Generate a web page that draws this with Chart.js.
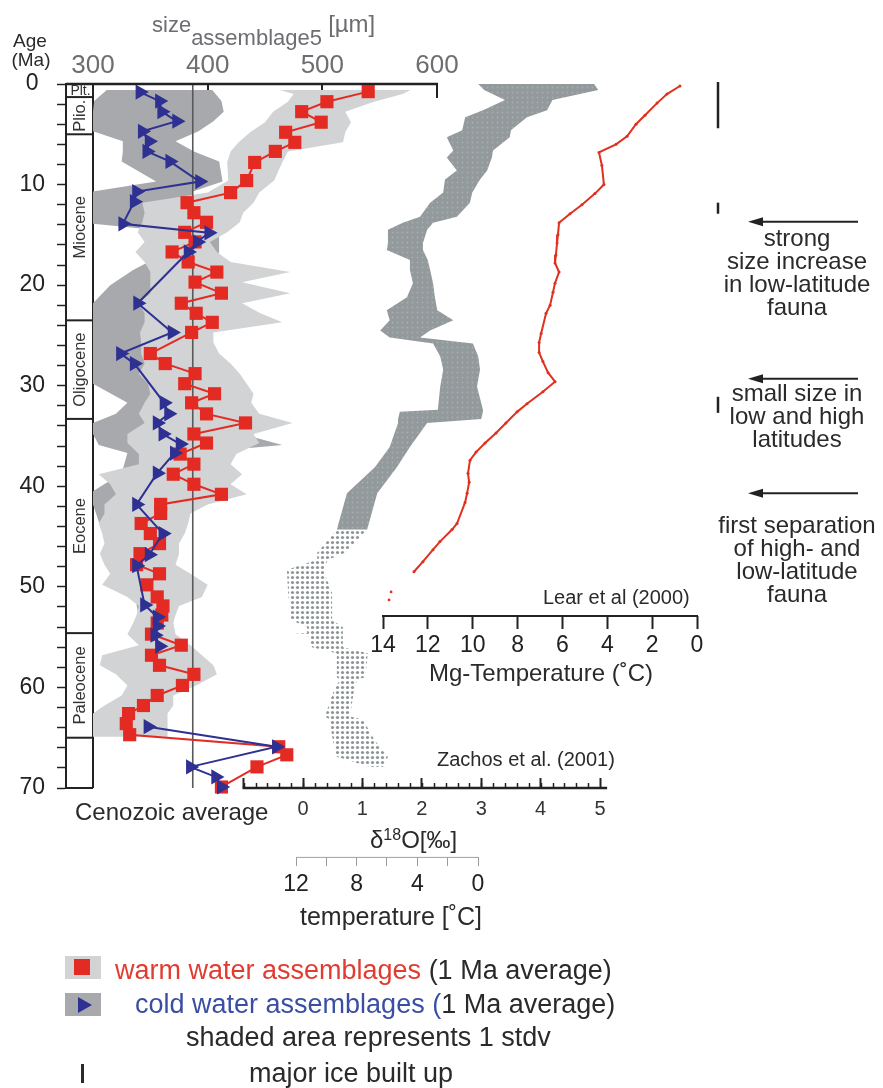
<!DOCTYPE html>
<html>
<head>
<meta charset="utf-8">
<script src="https://cdn.jsdelivr.net/npm/chart.js@4/dist/chart.umd.min.js"></script>
<style>
html,body{margin:0;padding:0;background:#fff;}
#wrap{position:relative;width:883px;height:1088px;overflow:hidden;font-family:"Liberation Sans",Arial,sans-serif;color:#2a2a2a;}
#c{position:absolute;left:0;top:0;}
.t{position:absolute;white-space:nowrap;line-height:1;}
.ctr{transform:translateX(-50%);text-align:center;}
.ann{position:absolute;left:797px;transform:translateX(-50%);text-align:center;white-space:nowrap;font-size:24px;line-height:23px;}
.sw{position:absolute;}
</style>
</head>
<body>
<div id="wrap">
<canvas id="c" width="883" height="1088"></canvas>

<div class="t ctr" style="left:30px;top:31px;font-size:19px;">Age</div>
<div class="t ctr" style="left:31px;top:50px;font-size:19px;">(Ma)</div>
<div class="t" style="left:152px;top:12.4px;font-size:22px;color:#6d6e71;">size<span style="position:relative;top:13px;">assemblage5</span> <span style="font-size:24px;">[µm]</span></div>

<div class="t" style="left:75px;top:800px;font-size:24px;">Cenozoic average</div>
<div class="t" style="left:437px;top:749px;font-size:20px;">Zachos et al. (2001)</div>
<div class="t" style="left:370px;top:827.5px;font-size:24px;">δ<span style="font-size:16px;position:relative;top:-7.6px;">18</span>O[‰]</div>
<div class="t ctr" style="left:391px;top:903.8px;font-size:25px;">temperature [˚C]</div>
<div class="t ctr" style="left:541px;top:661.4px;font-size:24px;">Mg-Temperature (˚C)</div>
<div class="t" style="left:543px;top:587px;font-size:20px;">Lear et al (2000)</div>

<div class="ann" style="top:226.4px;">strong<br>size increase<br>in low-latitude<br>fauna</div>
<div class="ann" style="top:381.4px;">small size in<br>low and high<br>latitudes</div>
<div class="ann" style="top:513.4px;">first separation<br>of high- and<br>low-latitude<br>fauna</div>

<div class="sw" style="left:65px;top:956px;width:36px;height:23px;background:#d1d3d4;"></div>
<div class="sw" style="left:74px;top:959px;width:16px;height:16px;background:#e32b24;"></div>
<div class="t" style="left:115px;top:957.1px;font-size:27px;"><span style="color:#e03c31;">warm water assemblages</span> (1 Ma average)</div>
<div class="sw" style="left:65px;top:993px;width:36px;height:23px;background:#a7a9ac;"></div>
<div class="sw" style="left:78px;top:996.5px;width:0;height:0;border-top:8px solid transparent;border-bottom:8px solid transparent;border-left:14px solid #2e3192;"></div>
<div class="t" style="left:135px;top:991.1px;font-size:27px;"><span style="color:#3a4fa3;">cold water assemblages (</span>1 Ma average)</div>
<div class="t" style="left:186px;top:1024.1px;font-size:27px;">shaded area represents 1 stdv</div>
<div class="sw" style="left:81px;top:1064px;width:2.5px;height:19px;background:#2a2a2a;"></div>
<div class="t" style="left:249px;top:1060.1px;font-size:27px;">major ice built up</div>
</div>

<script>
// ---------------- DATA ----------------
const AGE_MIN = 0, AGE_MAX = 70, AGE_TICK_STEP = 2;
const SIZE_TICKS = [300, 400, 500, 600];
const D18O_TICKS = [-1, 0, 1, 2, 3, 4, 5];
const D18O_MINOR_STEP = 0.2;
const D18O_AXIS_RANGE = [-1, 5.12];
const TEMP_TICKS = [12, 10, 8, 6, 4, 2, 0];
const TEMP_LABELS = [12, 8, 4, 0];
const MG_TICKS = [14, 12, 10, 8, 6, 4, 2, 0];
const CENOZOIC_AVG = 387;

// warm water assemblages (1 Ma average), size in µm
const WARM_AGE  = [0.76,1.76,2.75,3.8,4.8,5.8,6.7,7.8,9.6,10.8,11.8,12.8,13.75,14.75,15.7,16.7,17.7,18.7,19.7,20.8,21.8,22.8,23.7,24.7,26.8,27.8,28.8,29.8,30.8,31.7,32.8,33.7,34.8,35.7,36.8,37.8,38.8,39.8,40.8,41.8,42.7,43.7,44.7,45.7,46.7,47.8,48.7,49.8,51.0,51.9,52.8,53.6,54.7,55.8,56.8,57.8,58.7,59.8,60.8,61.8,62.6,63.6,64.7,65.9,66.7,67.9,69.9];
const WARM_SIZE = [540,504,482,499,468,476,459,441,434,420,382,388,399,380,389,369,383,408,389,412,377,390,404,386,350,363,389,380,406,386,399,433,388,399,376,388,370,388,412,359,359,342,350,358,341,338,358,347,356,361,360,356,351,377,351,358,388,378,356,344,331,329,332,462,469,443,412];

// cold water assemblages (1 Ma average), null = gap
const COLD_AGE  = [0.8,1.7,2.75,3.7,4.7,5.7,6.7,7.7,9.7,10.7,11.7,13.9,14.8,15.7,16.7,21.8,24.7,26.8,27.8,31.7,32.8,33.7,34.8,35.8,36.7,38.7,41.8,44.7,46.8,47.9,51.8,53.0,53.9,54.8,55.9,60,63.9,65.9,67.9,68.9,69.9];
const COLD_SIZE = [341,358,360,373,343,349,347,367,393,338,336,326,401,391,383,339,369,324,336,362,366,356,361,376,371,356,338,361,349,338,345,356,356,354,358,null,348,460,385,407,412];

// 1 stdv envelopes
const WARM_BAND_AGE = [0.6,1.0,1.76,2.75,3.8,4.8,5.8,6.7,7.8,9.6,10.8,11.8,12.8,13.75,14.75,15.7,16.7,17.7,18.7,19.7,20.8,21.8,22.8,23.7,24.7,25.7,26.8,27.8,28.8,29.8,30.8,31.7,32.8,33.7,34.8,35.7,36.8,37.8,38.8,39.8,40.8,41.8,42.7,43.7,44.7,45.7,46.7,47.8,48.7,49.8,51.0,51.9,52.8,53.6,54.7,55.8,56.8,57.8,58.7,59.8,60.8,61.8,62.6,63.6,64.9];
const WARM_BAND_LO  = [463,475,470,457,450,437,427,420,417,418,400,343,345,343,339,345,337,345,350,350,350,340,345,345,341,342,342,345,340,348,350,345,340,345,330,330,340,340,305,315,320,310,310,305,308,310,306,310,315,308,330,340,338,335,330,340,308,306,320,330,325,310,300,300,300];
const WARM_BAND_HI  = [577,570,545,520,525,520,518,470,465,458,445,440,431,428,417,402,408,420,472,430,472,430,446,465,405,405,410,420,428,434,440,438,445,474,440,445,425,420,430,420,434,400,385,383,380,375,375,372,385,400,395,375,372,370,372,385,395,405,408,390,370,370,365,365,365];

const COLD_BAND_AGE = [0.6,1.7,2.75,3.7,4.7,5.7,6.7,7.7,9.7,10.7,11.7,13.9,14.8,15.7,16.7,18.5,20.0,21.8,24.7,26.8,27.8,29.8,31.7,32.8,33.7,34.8,35.9,36.7,38.7,40.5,41.8,43.5,44.7,46.8,47.9,51.8,53.0,53.9,54.8,55.9];
const COLD_BAND_LO  = [312,301,300,300,300,326,326,325,355,300,300,300,380,378,365,335,315,300,300,300,300,300,330,320,300,300,305,330,325,300,300,305,310,325,338,338,340,343,345,345];
const COLD_BAND_HI  = [404,412,414,405,392,372,388,410,413,387,385,355,410,410,410,405,395,375,380,365,372,380,372,380,405,430,465,388,385,383,385,370,360,365,362,372,368,366,365,365];

// benthic d18O (Zachos et al. 2001): envelope of the data cloud
const D18O_DENSE_AGE   = [0.0,0.6,1.6,2.6,3.3,4.6,5.3,6.6,7.3,8.6,9.5,10.8,11.8,13.2,13.8,14.5,15.8,16.5,17.5,18.5,19.8,21.2,22.5,23.5,24.5,25.2,25.8,27.1,28.4,30.1,32.4,32.6,33.3,33.7,36.1,38.1,40.7,44.3];
const D18O_DENSE_LEFT  = [2.95,3.05,3.40,3.03,2.73,2.68,2.42,2.53,2.42,2.59,2.39,2.36,2.14,1.97,1.68,1.43,1.43,1.41,1.80,1.80,1.85,1.75,1.41,1.46,1.30,1.46,2.19,2.31,2.36,2.31,2.27,1.63,1.60,1.60,1.46,1.21,0.74,0.57];
const D18O_DENSE_RIGHT = [4.90,4.97,4.20,4.11,3.77,3.50,3.48,3.20,3.18,3.10,2.98,2.85,2.81,2.59,2.19,2.09,2.02,2.02,2.10,2.14,2.19,2.22,2.26,2.53,2.14,1.97,2.86,2.95,2.98,2.93,3.03,3.03,3.00,2.09,1.80,1.58,1.25,1.08];
const D18O_SPARSE_AGE   = [44.3,46.6,47.3,48.3,50.6,53.3,54.0,54.6,54.75,54.9,56.0,56.6,59.0,59.2,60.6,62.9,63.2,65.2,66.9,67.9];
const D18O_SPARSE_LEFT  = [0.57,0.24,0.24,-0.27,-0.25,-0.20,0.07,0.07,-0.35,0.10,0.15,0.57,0.57,0.62,0.50,0.37,0.45,0.50,0.57,1.13];
const D18O_SPARSE_RIGHT = [1.08,0.71,0.42,0.34,0.49,0.49,0.67,0.67,0.67,0.67,0.67,1.09,1.05,0.91,0.85,0.79,1.01,1.20,1.43,1.35];

// Mg-temperature (Lear et al. 2000)
const MG_AGE  = [0.2,1.0,1.9,3.1,4.0,5.2,6.0,6.8,8.1,10.0,10.9,12.0,12.9,13.8,15.0,15.8,17.0,17.8,18.7,19.8,20.7,22.0,22.8,24.8,25.7,26.7,27.6,28.7,29.6,30.6,31.8,32.6,33.7,34.7,35.7,36.6,37.4,38.7,39.6,40.7,41.6,43.7,44.3,45.5,46.3,47.5,48.5];
const MG_TEMP = [0.76,1.34,1.78,2.32,2.72,3.12,3.61,4.37,4.24,4.15,4.55,5.13,5.66,6.15,6.20,6.24,6.29,6.33,6.15,6.33,6.42,6.55,6.73,6.95,7.04,7.04,6.87,6.64,6.33,6.87,7.58,8.02,8.52,8.96,9.45,9.85,10.12,10.21,10.16,10.25,10.34,10.70,10.92,11.46,11.77,12.22,12.62];
const MG_EXTRA_AGE  = [50.5, 51.3];
const MG_EXTRA_TEMP = [13.64, 13.73];

// epochs, ice build-up events, annotation arrows (ages in Ma)
const EPOCH_NAMES  = ['Plt.','Plio.','Miocene','Oligocene','Eocene','Paleocene',''];
const EPOCH_BOUNDS = [0,1.3,5.0,23.5,33.3,54.6,65.0,70];
const ICE_START = [-0.2, 11.8, 31.1];
const ICE_END   = [4.4, 12.9, 32.7];
const ARROW_AGES = [13.7, 29.3, 40.7];

// ---------------- LAYOUT ----------------
const W = 883, H = 1088;
const AREA = {left: 66, right: 740, top: 84, bottom: 788};
const MG_AXIS_AGE = 52.9;
const TEMP_AXIS_AGE = 76.9;
const ICE_X = 718, ARROW_X0 = 858, ARROW_X1 = 748;
const FONT = '"Liberation Sans", Arial, sans-serif';
const INK = '#222';

function rangeFor(v0, px0, v1, px1) {
  const k = (px1 - px0) / (v1 - v0);
  const a = v0 + (AREA.left - px0) / k, b = v0 + (AREA.right - px0) / k;
  return a < b ? {min: a, max: b, reverse: false} : {min: b, max: a, reverse: true};
}
const R_SIZE = rangeFor(300, 93, 600, 437);
const R_D18 = rangeFor(0, 303, 5, 600);
const R_TEMP = rangeFor(12, 296, 0, 478);
const R_MG = rangeFor(14, 383, 0, 697);

function speckle(base, dot, size, r) {
  const c = document.createElement('canvas'); c.width = c.height = size;
  const g = c.getContext('2d');
  if (base) { g.fillStyle = base; g.fillRect(0, 0, size, size); }
  g.fillStyle = dot; g.beginPath(); g.arc(size / 2, size / 2, r, 0, Math.PI * 2); g.fill();
  return g.createPattern(c, 'repeat');
}

const pts = (ages, vals) => ages.map((a, i) => ({x: vals[i], y: a}));
const poly = (ages, lo, hi) => pts(ages, lo).concat(pts(ages, hi).reverse());

const bandDs = (data, color, axis, order) => ({
  data, xAxisID: axis, yAxisID: 'y', showLine: true, fill: 'shape',
  backgroundColor: color, borderColor: 'rgba(0,0,0,0)', borderWidth: 0, pointRadius: 0, order
});

const overlay = {
  id: 'overlay',
  afterDraw(chart) {
    const {ctx, chartArea: ca, scales} = chart;
    const Y = v => scales.y.getPixelForValue(v);
    const XS = v => scales.xSize.getPixelForValue(v);
    const XD = v => scales.xD18.getPixelForValue(v);
    const XT = v => scales.xTemp.getPixelForValue(v);
    const XM = v => scales.xMg.getPixelForValue(v);
    const seg = (x1, y1, x2, y2, c, w) => { ctx.beginPath(); ctx.moveTo(x1, y1); ctx.lineTo(x2, y2); ctx.strokeStyle = c; ctx.lineWidth = w; ctx.stroke(); };
    ctx.save();
    seg(ca.left, Y(AGE_MIN), XS(SIZE_TICKS[SIZE_TICKS.length - 1]) + 1, Y(AGE_MIN), INK, 2.5);
    seg(XD(D18O_AXIS_RANGE[0]) - 1, Y(AGE_MAX), XD(D18O_AXIS_RANGE[1]), Y(AGE_MAX), INK, 2.5);
    seg(XT(TEMP_TICKS[0]), Y(TEMP_AXIS_AGE), XT(TEMP_TICKS[TEMP_TICKS.length - 1]), Y(TEMP_AXIS_AGE), '#a0a0a0', 1);
    seg(XM(MG_TICKS[0]) - 1, Y(MG_AXIS_AGE), XM(MG_TICKS[MG_TICKS.length - 1]) + 1, Y(MG_AXIS_AGE), INK, 2);
    const x0 = ca.left, x1 = XS(SIZE_TICKS[0]);
    for (let i = 1; i < EPOCH_BOUNDS.length; i++) seg(x0, Y(EPOCH_BOUNDS[i]), x1, Y(EPOCH_BOUNDS[i]), INK, 2);
    ctx.fillStyle = '#333'; ctx.textAlign = 'center'; ctx.textBaseline = 'middle';
    for (let i = 0; i < EPOCH_NAMES.length; i++) {
      const cy = (Y(EPOCH_BOUNDS[i]) + Y(EPOCH_BOUNDS[i + 1])) / 2, cx = (x0 + x1) / 2 + 1;
      if (!EPOCH_NAMES[i]) continue;
      if (i === 0) { ctx.font = '14px ' + FONT; ctx.fillText(EPOCH_NAMES[i], cx, cy + 1); }
      else { ctx.save(); ctx.translate(cx, cy); ctx.rotate(-Math.PI / 2); ctx.font = '16.5px ' + FONT; ctx.fillText(EPOCH_NAMES[i], 0, 0); ctx.restore(); }
    }
    for (let i = 0; i < ICE_START.length; i++) seg(ICE_X, Y(ICE_START[i]), ICE_X, Y(ICE_END[i]), INK, 2.5);
    ctx.fillStyle = INK;
    for (const a of ARROW_AGES) {
      const y = Y(a);
      seg(ARROW_X0, y, ARROW_X1 + 8, y, INK, 2);
      ctx.beginPath(); ctx.moveTo(ARROW_X1, y); ctx.lineTo(ARROW_X1 + 15, y - 4.5); ctx.lineTo(ARROW_X1 + 15, y + 4.5); ctx.closePath(); ctx.fill();
    }
    ctx.restore();
  }
};

const xAxisBase = (r, extra) => Object.assign({
  type: 'linear', axis: 'x', min: r.min, max: r.max, reverse: r.reverse, bounds: 'data',
  border: {display: false}
}, extra);

new Chart(document.getElementById('c'), {
  type: 'scatter',
  data: {
    datasets: [
      bandDs(poly(COLD_BAND_AGE, COLD_BAND_LO, COLD_BAND_HI), '#a7a9ac', 'xSize', 7),
      bandDs(poly(WARM_BAND_AGE, WARM_BAND_LO, WARM_BAND_HI), '#d1d3d4', 'xSize', 6),
      bandDs(poly(D18O_DENSE_AGE, D18O_DENSE_LEFT, D18O_DENSE_RIGHT), speckle('#939a9c', '#a9aeb0', 5, 0.9), 'xD18', 5),
      bandDs(poly(D18O_SPARSE_AGE, D18O_SPARSE_LEFT, D18O_SPARSE_RIGHT), speckle(null, '#8e9597', 5, 1.6), 'xD18', 5),
      { data: pts(MG_AGE, MG_TEMP), xAxisID: 'xMg', yAxisID: 'y', showLine: true, borderColor: '#e0301e', borderWidth: 2,
        pointRadius: 1.5, pointBackgroundColor: '#e0301e', pointBorderWidth: 0, order: 3 },
      { data: pts(MG_EXTRA_AGE, MG_EXTRA_TEMP), xAxisID: 'xMg', yAxisID: 'y', showLine: false,
        pointRadius: 1.4, pointBackgroundColor: '#e0301e', pointBorderWidth: 0, order: 3 },
      { data: [{x: CENOZOIC_AVG, y: AGE_MIN}, {x: CENOZOIC_AVG, y: AGE_MAX}], xAxisID: 'xSize', yAxisID: 'y', showLine: true,
        borderColor: '#58595b', borderWidth: 1.6, pointRadius: 0, order: 2 },
      { data: pts(WARM_AGE, WARM_SIZE), xAxisID: 'xSize', yAxisID: 'y', showLine: true, borderColor: '#e32b24', borderWidth: 2,
        pointStyle: 'rect', pointRadius: 9.3, pointBackgroundColor: '#e32b24', pointBorderWidth: 0, clip: false, order: 1 },
      { data: pts(COLD_AGE, COLD_SIZE), xAxisID: 'xSize', yAxisID: 'y', showLine: true, spanGaps: false, borderColor: '#2e3192', borderWidth: 2,
        pointStyle: 'triangle', pointRotation: 90, pointRadius: 8.8, pointBackgroundColor: '#2e3192', pointBorderWidth: 0, clip: false, order: 0 }
    ]
  },
  options: {
    responsive: false, animation: false, events: [], devicePixelRatio: 1,
    layout: {padding: {top: AREA.top, bottom: H - AREA.bottom, left: 0, right: W - AREA.right}},
    plugins: {legend: {display: false}, tooltip: {enabled: false}},
    elements: {line: {tension: 0}},
    scales: {
      y: {
        type: 'linear', position: 'left', reverse: true, min: AGE_MIN, max: AGE_MAX,
        afterFit(s) { s.width = AREA.left; },
        ticks: {stepSize: AGE_TICK_STEP, autoSkip: false, crossAlign: 'center', padding: 12, color: '#222',
                font: {family: FONT, size: 23}, callback: v => (v % 10 === 0 ? String(v) : '')},
        grid: {drawOnChartArea: false, drawTicks: true, tickLength: 9, tickColor: INK, tickWidth: 1.5},
        border: {display: true, color: INK, width: 2}
      },
      xSize: xAxisBase(R_SIZE, {
        position: {y: AGE_MIN}, z: 1,
        afterBuildTicks(s) { s.ticks = SIZE_TICKS.map(v => ({value: v})); },
        ticks: {autoSkip: false, maxRotation: 0, minRotation: 0, padding: -47.6, color: '#6d6e71',
                font: {family: FONT, size: 26}, callback: v => String(v)},
        grid: {drawOnChartArea: true, lineWidth: 2, drawTicks: true, tickLength: 14, tickWidth: 2,
               color: c => (c.tick && c.tick.value === SIZE_TICKS[0] ? INK : 'rgba(0,0,0,0)'),
               tickColor: c => (c.tick && c.tick.value === SIZE_TICKS[0] ? 'rgba(0,0,0,0)' : INK)}
      }),
      xD18: xAxisBase(R_D18, {
        position: {y: AGE_MAX},
        afterBuildTicks(s) { s.ticks = D18O_TICKS.map(v => ({value: v})); },
        ticks: {autoSkip: false, maxRotation: 0, minRotation: 0, padding: 19, color: '#333',
                font: {family: FONT, size: 20}, callback: v => (v >= 0 ? String(v) : '')},
        grid: {drawOnChartArea: false, drawTicks: true, tickLength: -10, tickWidth: 2, tickColor: INK}
      }),
      xD18m: xAxisBase(R_D18, {
        position: {y: AGE_MAX},
        afterBuildTicks(s) { s.ticks = s.ticks.filter(t => t.value >= D18O_AXIS_RANGE[0] - 0.001 && t.value <= 5.001); },
        ticks: {stepSize: D18O_MINOR_STEP, autoSkip: false, maxRotation: 0, minRotation: 0, font: {family: FONT, size: 10}, callback: () => ''},
        grid: {drawOnChartArea: false, drawTicks: true, tickLength: -5, tickWidth: 1.5, tickColor: INK}
      }),
      xTemp: xAxisBase(R_TEMP, {
        position: {y: TEMP_AXIS_AGE},
        afterBuildTicks(s) { s.ticks = TEMP_TICKS.map(v => ({value: v})); },
        ticks: {autoSkip: false, maxRotation: 0, minRotation: 0, padding: 4.3, color: '#222',
                font: {family: FONT, size: 23}, callback: v => (TEMP_LABELS.includes(v) ? String(v) : '')},
        grid: {drawOnChartArea: false, drawTicks: true, tickLength: 9, tickWidth: 1, tickColor: '#9a9a9a'}
      }),
      xMg: xAxisBase(R_MG, {
        position: {y: MG_AXIS_AGE},
        afterBuildTicks(s) { s.ticks = MG_TICKS.map(v => ({value: v})); },
        ticks: {autoSkip: false, maxRotation: 0, minRotation: 0, padding: 3.2, color: '#222',
                font: {family: FONT, size: 23}, callback: v => String(v)},
        grid: {drawOnChartArea: false, drawTicks: true, tickLength: 13, tickWidth: 2, tickColor: INK}
      })
    }
  },
  plugins: [overlay]
});
</script>
</body>
</html>
